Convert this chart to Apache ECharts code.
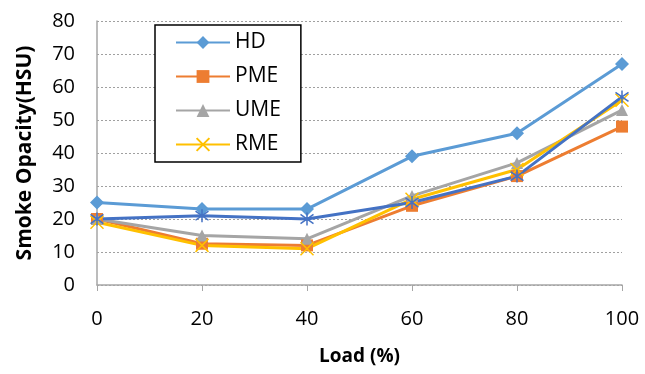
<!DOCTYPE html>
<html>
<head>
<meta charset="utf-8">
<script src="https://cdn.jsdelivr.net/npm/echarts@6/dist/echarts.min.js"></script>
<style>
  html, body { margin: 0; padding: 0; background: #fff; }
  #chart { width: 645px; height: 374px; }
</style>
</head>
<body>
<div id="chart"></div>
<script>
// load points on the x axis
var loads = [0, 20, 40, 60, 80, 100];
var hd = [25, 23, 23, 39, 46, 67];
var pme = [20, 12.5, 12, 24, 33, 48];
var ume = [20, 15, 14, 27, 37, 53];
var rme = [19, 12, 11, 26, 35, 56];
var extra = [20, 21, 20, 25, 33, 57]; // unlabelled dark blue line
var legendNames = ['HD', 'PME', 'UME', 'RME'];

function pairs(vals) {
    return loads.map(function (x, i) { return [x, vals[i]]; });
}

var chart = echarts.init(document.getElementById('chart'));
var font = '"Open Sans", "Noto Sans", sans-serif';

function makeSeries(name, vals, color, symbol, size, hollow) {
    return {
        name: name,
        type: 'line',
        data: pairs(vals),
        symbol: symbol,
        symbolSize: size,
        lineStyle: { color: color, width: 3 },
        itemStyle: hollow
            ? { color: 'rgba(0,0,0,0)', borderColor: color, borderWidth: 1.5 }
            : { color: color },
        emphasis: { disabled: true },
        animation: false
    };
}

var option = {
    textStyle: { fontFamily: font },
    grid: { left: 97, right: 23, top: 21, bottom: 89 },
    legend: {
        data: legendNames,
        orient: 'vertical',
        left: 155,
        top: 25,
        padding: [7, 20, 7, 20],
        itemWidth: 54,
        itemHeight: 16,
        itemGap: 13,
        borderColor: '#000',
        borderWidth: 1.5,
        backgroundColor: '#fff',
        textStyle: { fontSize: 21, color: '#000', fontFamily: font }
    },
    xAxis: {
        type: 'value',
        min: 0,
        max: 100,
        interval: 20,
        name: 'Load (%)',
        nameLocation: 'middle',
        nameGap: 62,
        nameTextStyle: { fontSize: 19, fontWeight: 'bold', color: '#000' },
        axisLine: { show: true, lineStyle: { color: '#a6a6a6', width: 1.5 } },
        axisTick: { show: true, length: 6, lineStyle: { color: '#a6a6a6' } },
        axisLabel: { fontSize: 20, color: '#000', margin: 24 },
        splitLine: { show: false }
    },
    yAxis: {
        type: 'value',
        min: 0,
        max: 80,
        interval: 10,
        name: 'Smoke Opacity(HSU)',
        nameLocation: 'middle',
        nameRotate: 90,
        nameGap: 61,
        nameTextStyle: { fontSize: 21, fontWeight: 'bold', color: '#000' },
        axisLine: { show: true, lineStyle: { color: '#a6a6a6', width: 1.5 } },
        axisTick: { show: false },
        axisLabel: { fontSize: 20, color: '#000', margin: 22 },
        splitLine: { show: true, lineStyle: { color: '#a0a0a0', type: [2, 2], width: 1 } }
    },
    series: [
        makeSeries('HD', hd, '#5B9BD5', 'diamond', 14),
        makeSeries('PME', pme, '#ED7D31', 'rect', 12),
        makeSeries('UME', ume, '#A5A5A5', 'triangle', 12),
        makeSeries('RME', rme, '#FFC000', 'path://M0,0L10,10M10,0L0,10', 13, true),
        makeSeries('Series5', extra, '#4472C4', 'path://M5,0L5,10M0,1.5L10,8.5M10,1.5L0,8.5', 13, true)
    ]
};

chart.setOption(option);
</script>
</body>
</html>
